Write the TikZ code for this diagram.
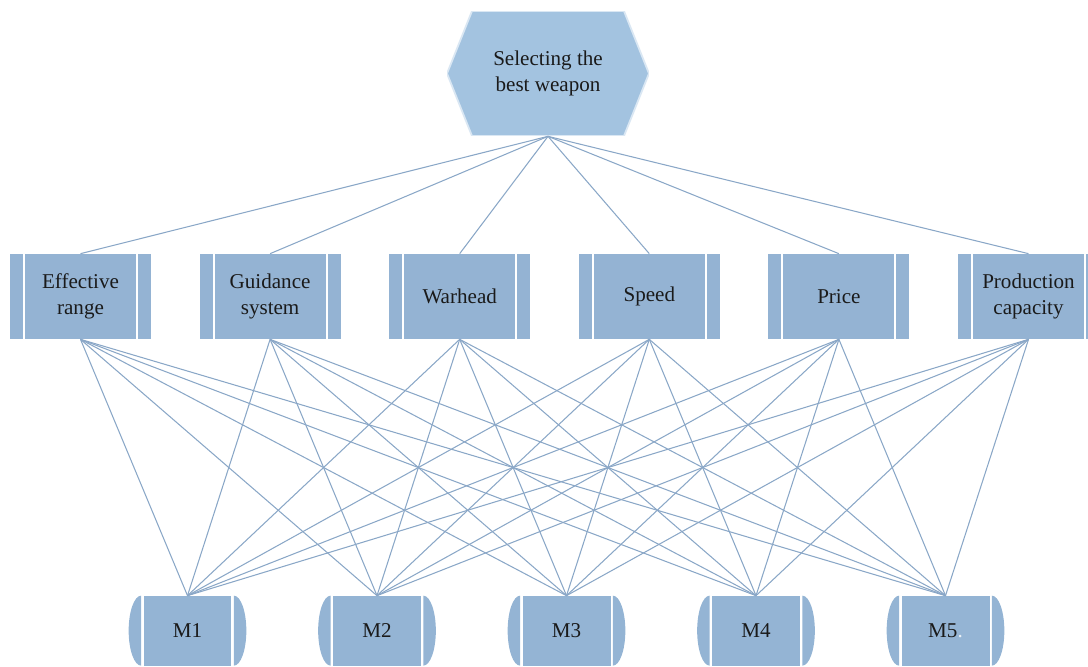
\documentclass[tikz,border=0pt]{standalone}
\usepackage{fontspec}
\setmainfont{Liberation Serif}
\usetikzlibrary{positioning}
\definecolor{lgoal}{HTML}{A3C3E0}
\definecolor{lcrit}{HTML}{94B3D3}
\definecolor{lalt}{HTML}{94B4D4}
\definecolor{llink}{HTML}{8AA7C7}
\definecolor{ltext}{HTML}{1A1A1A}

\begin{document}
\begin{tikzpicture}[x=0.02cm, y=-0.02cm,
  every node/.style={font=\fontsize{12}{14.5}\selectfont, text=ltext, align=center, inner sep=0pt},
  goal/.style={rectangle, minimum width=4.04cm, minimum height=2.5cm,
    path picture={\fill[lgoal, draw=lgoal!40, line width=1pt]
      (path picture bounding box.west) -- ([xshift=0.5cm]path picture bounding box.north west)
      -- ([xshift=-0.5cm]path picture bounding box.north east) -- (path picture bounding box.east)
      -- ([xshift=-0.5cm]path picture bounding box.south east) -- ([xshift=0.5cm]path picture bounding box.south west)
      -- cycle;}},
  crit/.style={rectangle, fill=lcrit, minimum width=2.82cm, minimum height=1.7cm,
    path picture={\draw[white, line width=1.1pt]
      ([xshift=0.28cm]path picture bounding box.north west) -- ([xshift=0.28cm]path picture bounding box.south west)
      ([xshift=-0.28cm]path picture bounding box.north east) -- ([xshift=-0.28cm]path picture bounding box.south east);}},
  alt/.style={rectangle, fill=lalt, minimum width=1.76cm, minimum height=1.4cm},
  link/.style={draw=llink, line width=0.6pt}]
  \useasboundingbox (0,0) rectangle (1088,666);

  % goal
  \node[goal] (goal) at (548,73.5) {Selecting the\\best weapon};

  % criteria
  \foreach \i/\t in {1/{Effective\\range}, 2/{Guidance\\system}, 3/{Warhead}, 4/{Speed}, 5/{Price}, 6/{Production\\capacity}}
    \node[crit] (c\i) at ({80.5+(\i-1)*189.6},296.5) {\t};

  % alternatives
  \foreach \j/\t in {1/M1, 2/M2, 3/M3, 4/M4, 5/{M5{\color{white!80!lalt}.}}} {
    \node[alt] (m\j) at ({187.5+(\j-1)*189.5},631) {\t};
    \fill[lalt] ([xshift=-0.04cm]m\j.north west) arc[start angle=90, end angle=270, x radius=0.25cm, y radius=0.7cm] -- cycle;
    \fill[lalt] ([xshift=0.04cm]m\j.north east) arc[start angle=90, end angle=-90, x radius=0.25cm, y radius=0.7cm] -- cycle;
  }

  % links
  \foreach \i in {1,...,6} {
    \draw[link] (goal.south) -- (c\i.north);
    \foreach \j in {1,...,5}
      \draw[link] (c\i.south) -- (m\j.north);
  }
\end{tikzpicture}
\end{document}
